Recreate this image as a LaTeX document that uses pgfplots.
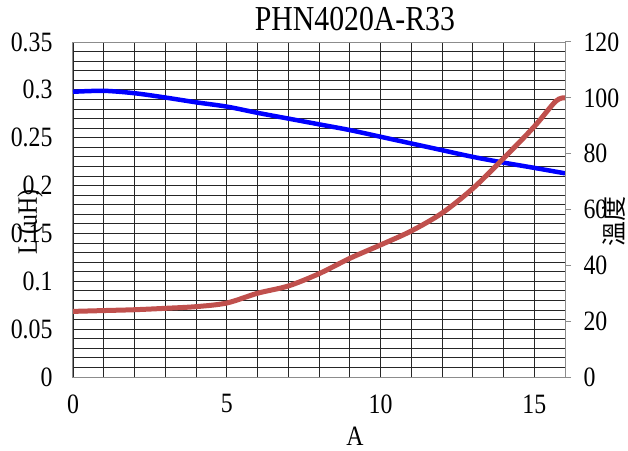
\documentclass[border=0pt]{standalone}
\usepackage{fontspec}
\setmainfont{Liberation Serif}[FakeStretch=0.85]
\newfontfamily\cjk{Noto Sans CJK TC}
\usepackage{pgfplots}
\pgfplotsset{compat=1.18}
\definecolor{lcol}{RGB}{0,0,255}
\definecolor{tcol}{RGB}{192,80,77}
\definecolor{frame}{RGB}{140,140,140}

\begin{document}
\begin{tikzpicture}
\pgfplotsset{every axis/.append style={
  scale only axis, width=492pt, height=335pt,
  xmin=0, xmax=16,
  /pgf/number format/assume math mode=true,
  tick label style={font=\fontsize{28}{28}\selectfont},
  label style={font=\fontsize{28}{28}\selectfont}}}
\begin{axis}[name=main,
  ymin=0, ymax=0.35,
  xtick={0,5,10,15},
  ytick={0,0.05,0.1,0.15,0.2,0.25,0.3,0.35},
  minor x tick num=4, minor y tick num=4,
  grid=both,
  major grid style={black!85, line width=0.9pt},
  minor grid style={black!85, line width=0.9pt},
  axis line style={frame, line width=1pt},
  tick style={draw=none},
  yticklabel style={/pgf/number format/fixed, /pgf/number format/precision=2, xshift=-17pt},
  xticklabel style={yshift=-14pt},
  xlabel={A},
  xlabel style={at={(axis description cs:0.573,-0.176)}, anchor=center},
  ylabel={L (uH)},
  ylabel style={at={(axis description cs:-0.087,0.463)}, anchor=center, rotate=0},
  title={PHN4020A-R33},
  title style={font=\fontsize{35}{35}\selectfont, at={(axis description cs:0.573,1.052)}, anchor=center}]
  \addplot[lcol, line width=4.5pt, smooth] coordinates {
    (0,0.298) (1,0.299) (2,0.2965) (3,0.292) (4,0.287) (5,0.2825) (6,0.276) (7,0.270)
    (8,0.264) (9,0.258) (10,0.251) (11,0.244) (12,0.237) (13,0.230) (14,0.224)
    (15,0.2185) (16,0.2128)};
\end{axis}
\begin{axis}[
  ymin=0, ymax=120,
  ytick={0,20,40,60,80,100,120},
  axis y line*=right, axis x line=none,
  y axis line style={frame, line width=1pt},
  ytick style={frame, line width=1pt},
  tick align=outside, major tick length=6pt,
  yticklabel style={xshift=9pt},
  ylabel={\cjk 溫度},
  ylabel style={font=\fontsize{25}{25}\cjk, at={(axis description cs:1.1,0.463)}, anchor=center}]
  \addplot[tcol, line width=5pt, smooth] coordinates {
    (0,23.5) (1,23.8) (2,24.1) (3,24.6) (4,25.2) (5,26.5) (6,30) (7,32.6) (8,37)
    (9,42.5) (10,47.3) (11,52.3) (12,58.7) (13,67.5) (14,78.3) (15,89.7) (15.7,98.8) (16,100)};
\end{axis}
\pgfresetboundingbox
\path ([xshift=-73pt,yshift=-73pt]main.south west) rectangle ([xshift=63pt,yshift=42pt]main.north east);
\end{tikzpicture}
\end{document}
